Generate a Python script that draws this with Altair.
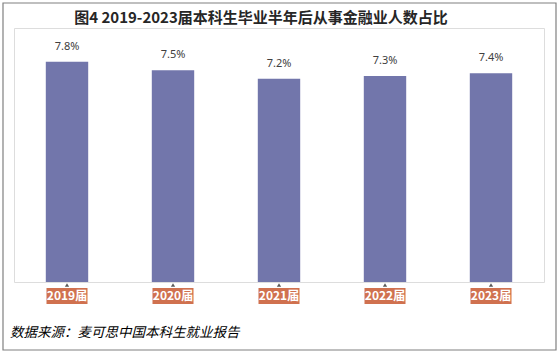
import altair as alt
import pandas as pd

years = ["2019届", "2020届", "2021届", "2022届", "2023届"]
shares = [7.8, 7.5, 7.2, 7.3, 7.4]
labels = ["7.8%", "7.5%", "7.2%", "7.3%", "7.4%"]
title_text = "图4 2019-2023届本科生毕业半年后从事金融业人数占比"
source_text = "数据来源：麦可思中国本科生就业报告"

df = pd.DataFrame({"year": years, "share": shares, "label": labels})

x = alt.X("year:N", sort=years, axis=None,
          scale=alt.Scale(paddingInner=0.6, paddingOuter=0.3))
base = alt.Chart(df).encode(x=x)

bars = base.mark_bar(color="#7276AB").encode(
    y=alt.Y("share:Q", axis=None, scale=alt.Scale(domain=[0, 9], nice=False))
)

vals = base.mark_text(fontSize=11, color="#404040", font="Noto Sans",
                      baseline="middle", dy=-15).encode(
    y=alt.Y("share:Q"), text="label:N"
)

tri = base.mark_point(shape="triangle-up", filled=True, size=18, color="#595959",
                      opacity=1).encode(y=alt.value(257))

boxes = base.mark_bar(size=41, color="#D0714F").encode(
    y=alt.value(260), y2=alt.value(276)
)

box_text = base.mark_text(color="white", fontSize=12, fontWeight="bold",
                          font="Noto Sans CJK SC", baseline="middle").encode(
    y=alt.value(268), text="year:N"
)

title = alt.Chart(pd.DataFrame({"t": [title_text]})).mark_text(
    fontSize=15, fontWeight="bold", font="Noto Sans CJK SC", color="#262626",
    baseline="middle", align="center"
).encode(x=alt.value(247), y=alt.value(-10), text="t:N")

source = alt.Chart(pd.DataFrame({"t": [source_text]})).mark_text(
    fontSize=13.5, fontStyle="italic", font="Noto Sans CJK SC", color="#000000",
    baseline="middle", align="left"
).encode(x=alt.value(-4), y=alt.value(305), text="t:N")

border = alt.Chart(pd.DataFrame({"a": [0]})).mark_rect(
    fill=None, stroke="#808080", strokeWidth=1.2
).encode(x=alt.value(-11), x2=alt.value(542), y=alt.value(-25), y2=alt.value(322))

chart = alt.layer(bars, vals, tri, boxes, box_text, title, source, border).properties(
    width=530, height=254,
    autosize=alt.AutoSizeParams(type="none"),
    padding={"left": 14, "top": 28, "right": 16, "bottom": 72},
).configure_view(stroke=None).configure(background="white")

chart.save("out.html", embed_options={"renderer": "svg", "actions": False})
